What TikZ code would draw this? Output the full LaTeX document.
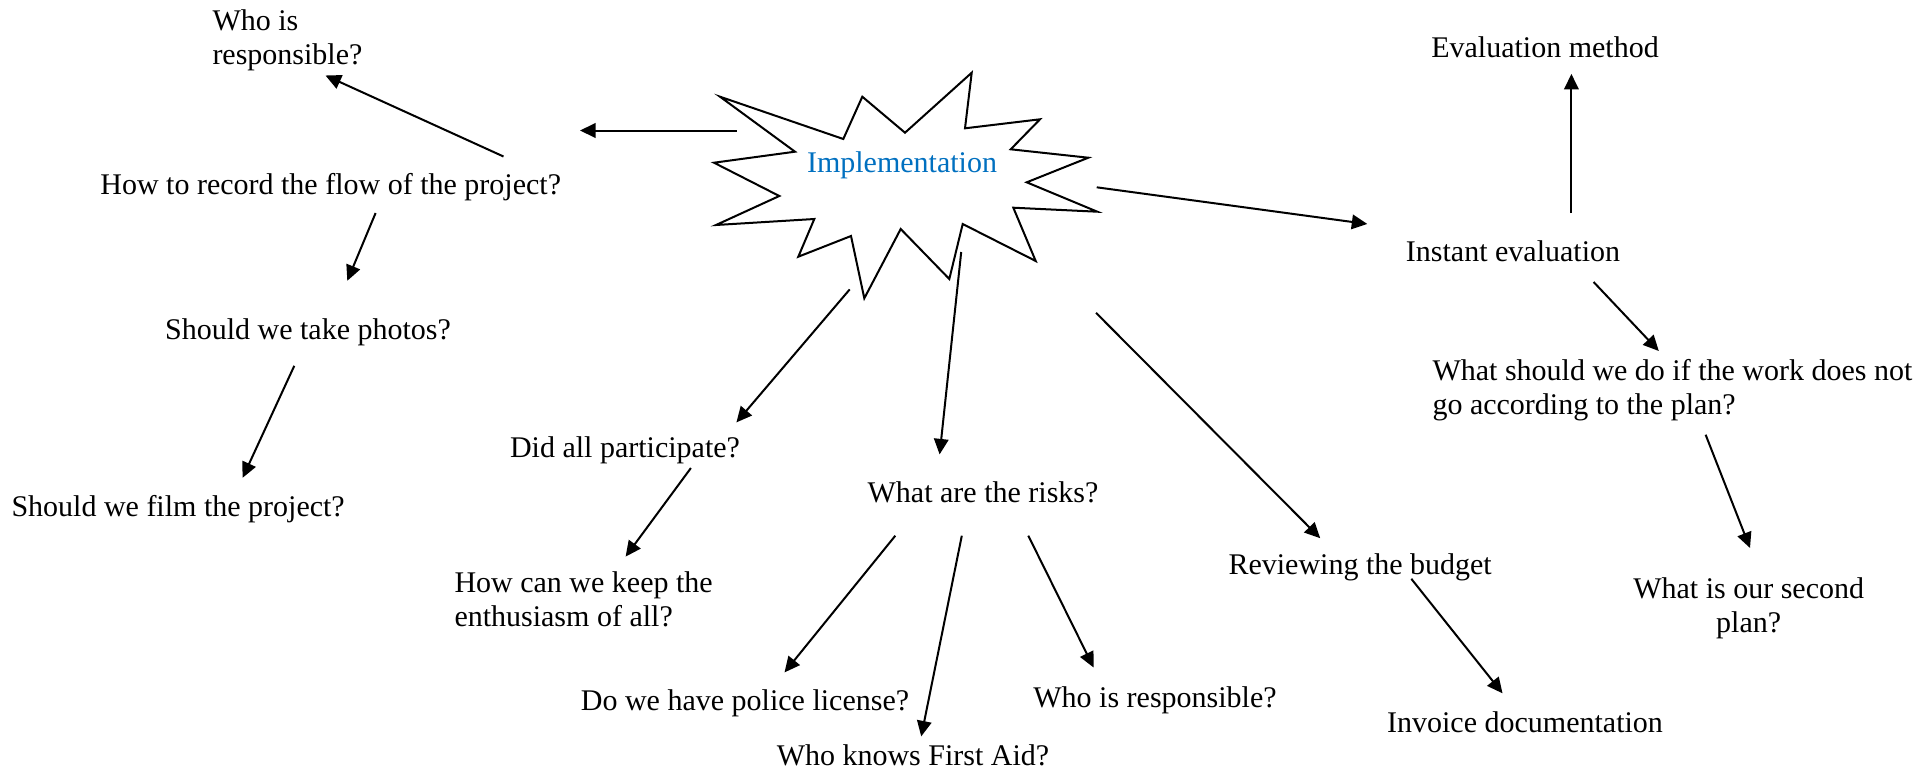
\documentclass[tikz,border=0pt]{standalone}
\usepackage{fontspec}
\setmainfont{Liberation Serif}
\usetikzlibrary{arrows.meta}
\definecolor{implblue}{HTML}{0070C0}
\begin{document}
\begin{tikzpicture}[x=0.4pt,y=-0.4pt,
  txt/.style={inner sep=0pt,yshift=-1.1pt,font=\fontsize{12pt}{13.6pt}\selectfont},
  arr/.style={line width=0.8pt,-{Triangle[length=6.2pt,width=5.8pt]}},
  starline/.style={line width=0.8pt,line join=miter,fill=white}]
\useasboundingbox (0,0) rectangle (1931,774);
% star
\draw[starline] (720,96.7) -- (843.3,139) -- (862.3,96.7) -- (905,132.7) -- (971.7,72.7) -- (965,128.3) -- (1040,119.3) -- (1010.7,149.3) -- (1088.3,157.7) -- (1026.7,182.3) -- (1097.3,211.7) -- (1013.3,207.7) -- (1035.7,261) -- (962.7,224) -- (949.3,279) -- (900.7,229) -- (864.3,298.3) -- (851,236) -- (798.3,256.7) -- (814.3,219) -- (716,225) -- (779.3,196) -- (714,162.7) -- (795,151.7) -- cycle;
\node[txt,anchor=base,text=implblue] (impl) at (902,170) {Implementation};
% text nodes
\node[txt,anchor=base west] (whoresp1) at (212,28) {\begin{tabular}[t]{@{}l@{}}Who is\\responsible?\end{tabular}};
\node[txt,anchor=base] (record) at (330.7,192) {How to record the flow of the project?};
\node[txt,anchor=base] (photos) at (308,337) {Should we take photos?};
\node[txt,anchor=base west] (film) at (11,514) {Should we film the project?};
\node[txt,anchor=base] (didall) at (625,455) {Did all participate?};
\node[txt,anchor=base west] (enth) at (454,589.5) {\begin{tabular}[t]{@{}l@{}}How can we keep the\\enthusiasm of all?\end{tabular}};
\node[txt,anchor=base] (risks) at (983,500) {What are the risks?};
\node[txt,anchor=base] (police) at (745,708) {Do we have police license?};
\node[txt,anchor=base] (firstaid) at (913,763) {Who knows First Aid?};
\node[txt,anchor=base] (whoresp2) at (1155,705) {Who is responsible?};
\node[txt,anchor=base west] (budget) at (1228,572) {Reviewing the budget};
\node[txt,anchor=base] (invoice) at (1525,730) {Invoice documentation};
\node[txt,anchor=base] (instant) at (1513,259) {Instant evaluation};
\node[txt,anchor=base] (method) at (1545,55) {Evaluation method};
\node[txt,anchor=base west] (whatdo) at (1432,378) {\begin{tabular}[t]{@{}l@{}}What should we do if the work does not\\go according to the plan?\end{tabular}};
\node[txt,anchor=base] (second) at (1748.7,596) {\begin{tabular}[t]{@{}c@{}}What is our second\\plan?\end{tabular}};
% connector end points
\coordinate (a1s) at (736.5,130.5); \coordinate (a1e) at (580,130.5);
\coordinate (a2s) at (503.5,156.5); \coordinate (a2e) at (325.5,75.5);
\coordinate (a3s) at (375.6,213); \coordinate (a3e) at (347.3,280.8);
\coordinate (a4s) at (294.3,365.8); \coordinate (a4e) at (242.6,477.8);
\coordinate (a5s) at (849.7,289.4); \coordinate (a5e) at (736.4,422.4);
\coordinate (a6s) at (690.9,468); \coordinate (a6e) at (625.6,556.6);
\coordinate (a7s) at (961.2,252); \coordinate (a7e) at (939.6,454.4);
\coordinate (a8s) at (895.3,535.7); \coordinate (a8e) at (784.5,672.4);
\coordinate (a9s) at (961.8,535.7); \coordinate (a9e) at (921.2,736.4);
\coordinate (a10s) at (1028.3,535.7); \coordinate (a10e) at (1093.6,667.5);
\coordinate (a11s) at (1096,312.8); \coordinate (a11e) at (1320.2,538.2);
\coordinate (a12s) at (1411.3,578.8); \coordinate (a12e) at (1502.5,693.3);
\coordinate (a13s) at (1096.7,187.3); \coordinate (a13e) at (1367.3,224);
\coordinate (a14s) at (1571.4,213); \coordinate (a14e) at (1571.4,73.9);
\coordinate (a15s) at (1593.6,282); \coordinate (a15e) at (1658.8,351);
\coordinate (a16s) at (1705.6,434.7); \coordinate (a16e) at (1750,548);
% connectors
\draw[arr] (a1s) -- (a1e);
\draw[arr] (a2s) -- (a2e);
\draw[arr] (a3s) -- (a3e);
\draw[arr] (a4s) -- (a4e);
\draw[arr] (a5s) -- (a5e);
\draw[arr] (a6s) -- (a6e);
\draw[arr] (a7s) -- (a7e);
\draw[arr] (a8s) -- (a8e);
\draw[arr] (a9s) -- (a9e);
\draw[arr] (a10s) -- (a10e);
\draw[arr] (a11s) -- (a11e);
\draw[arr] (a12s) -- (a12e);
\draw[arr] (a13s) -- (a13e);
\draw[arr] (a14s) -- (a14e);
\draw[arr] (a15s) -- (a15e);
\draw[arr] (a16s) -- (a16e);
\end{tikzpicture}
\end{document}
